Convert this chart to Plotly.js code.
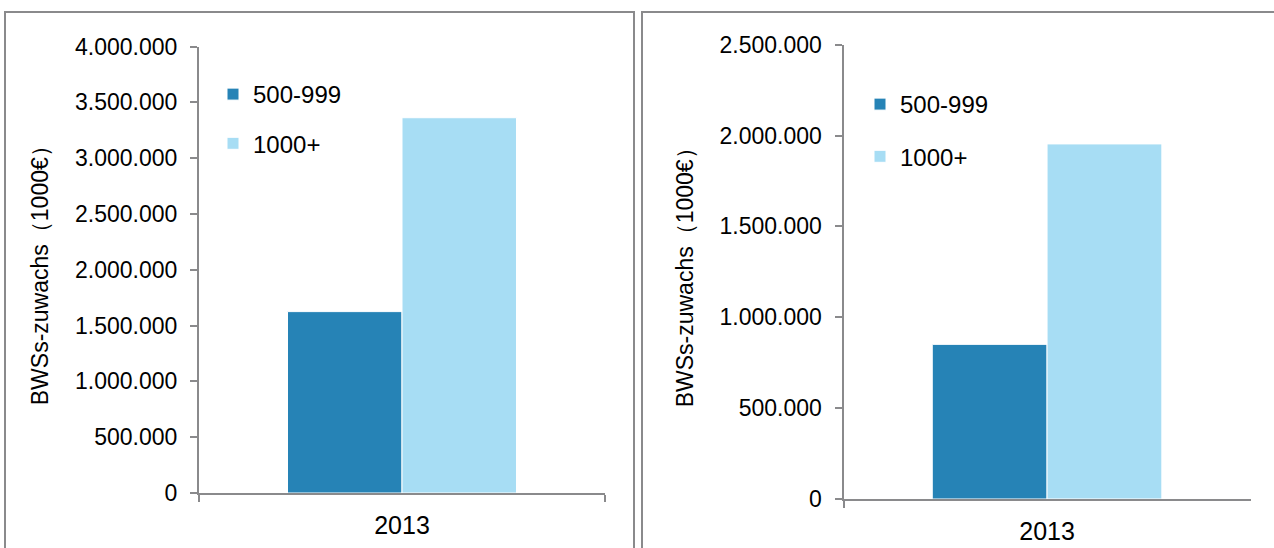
<!DOCTYPE html>
<html>
<head>
<meta charset="utf-8">
<script src="https://cdn.plot.ly/plotly-3.0.1.min.js"></script>
<style>html,body{margin:0;padding:0;background:#fff;}#chart{width:1274px;height:548px;}</style>
</head>
<body>
<div id="chart"></div>
<script>
// Data
const categories = ["2013"];
const seriesNames = ["500-999", "1000+"];
const leftValues500 = [1625000];
const leftValues1000 = [3362000];
const rightValues500 = [851000];
const rightValues1000 = [1954000];
const yTitle = "BWSs-zuwachs（1000€）";

const W = 1274, H = 548;
const px = v => v / W;
const py = v => (H - v) / H;

const dark = "#2683b6";
const light = "#a7ddf4";
const gray = "#8a8a8c";
const font = "Liberation Sans, Arial, sans-serif";

function bar(x, y, name, color, xa, ya, leg, grp) {
  return {
    type: "bar", x: x, y: y, name: name, xaxis: xa, yaxis: ya,
    marker: {color: color, line: {color: "#ffffff", width: 1}},
    legend: leg, legendgroup: grp, hoverinfo: "y+name"
  };
}

const data = [
  bar(categories, leftValues500, seriesNames[0], dark, "x", "y", "legend", "a"),
  bar(categories, leftValues1000, seriesNames[1], light, "x", "y", "legend", "b"),
  bar(categories, rightValues500, seriesNames[0], dark, "x2", "y2", "legend2", "c"),
  bar(categories, rightValues1000, seriesNames[1], light, "x2", "y2", "legend2", "d")
];

const xCommon = {
  type: "category", range: [-0.5, 0.5], showline: true, linecolor: gray, linewidth: 2,
  ticks: "outside", tickson: "boundaries", ticklen: 7, tickwidth: 2, tickcolor: gray,
  showgrid: false, zeroline: false, fixedrange: true, automargin: false,
  tickfont: {family: font, size: 25, color: "#000"}, ticklabelstandoff: 9
};
const yCommon = {
  showline: true, linecolor: gray, linewidth: 2, ticks: "outside", ticklen: 7, tickwidth: 2,
  tickcolor: gray, showgrid: false, zeroline: false, dtick: 500000, tickformat: ",",
  tickfont: {family: font, size: 23, color: "#000"}, ticklabelstandoff: 8, fixedrange: true,
  automargin: true,
  title: {text: yTitle, standoff: 20, font: {family: font, size: 23, color: "#000"}}
};

const legCommon = {
  font: {family: font, size: 24, color: "#000"}, bgcolor: "rgba(0,0,0,0)",
  xanchor: "left", yanchor: "top", tracegroupgap: 15, traceorder: "grouped"
};

const layout = {
  width: W, height: H, margin: {l: 0, r: 0, t: 0, b: 0, autoexpand: false},
  paper_bgcolor: "#fff", plot_bgcolor: "rgba(0,0,0,0)",
  separators: ",.", bargap: 0.436, bargroupgap: 0, barmode: "group",
  showlegend: true,
  xaxis: Object.assign({}, xCommon, {domain: [px(199), px(605)], anchor: "y"}),
  yaxis: Object.assign({}, yCommon, {domain: [py(493), py(46.5)], range: [0, 4000000], anchor: "x"}),
  xaxis2: Object.assign({}, xCommon, {domain: [px(843.5), px(1250.6)], anchor: "y2"}),
  yaxis2: Object.assign({}, yCommon, {domain: [py(499), py(44.7)], range: [0, 2500000], anchor: "x2"}),
  legend: Object.assign({}, legCommon, {x: px(213), y: py(72)}),
  legend2: Object.assign({}, legCommon, {x: px(860), y: py(82), tracegroupgap: 18}),
  shapes: [
    {type: "rect", xref: "paper", yref: "paper", x0: px(5), x1: px(634), y0: -0.2, y1: py(12),
     line: {color: gray, width: 2}, fillcolor: "rgba(0,0,0,0)", layer: "below"},
    {type: "rect", xref: "paper", yref: "paper", x0: px(642), x1: 1.2, y0: -0.2, y1: py(12),
     line: {color: gray, width: 2}, fillcolor: "rgba(0,0,0,0)", layer: "below"}
  ]
};

Plotly.newPlot("chart", data, layout, {displayModeBar: false, staticPlot: true});
</script>
</body>
</html>
